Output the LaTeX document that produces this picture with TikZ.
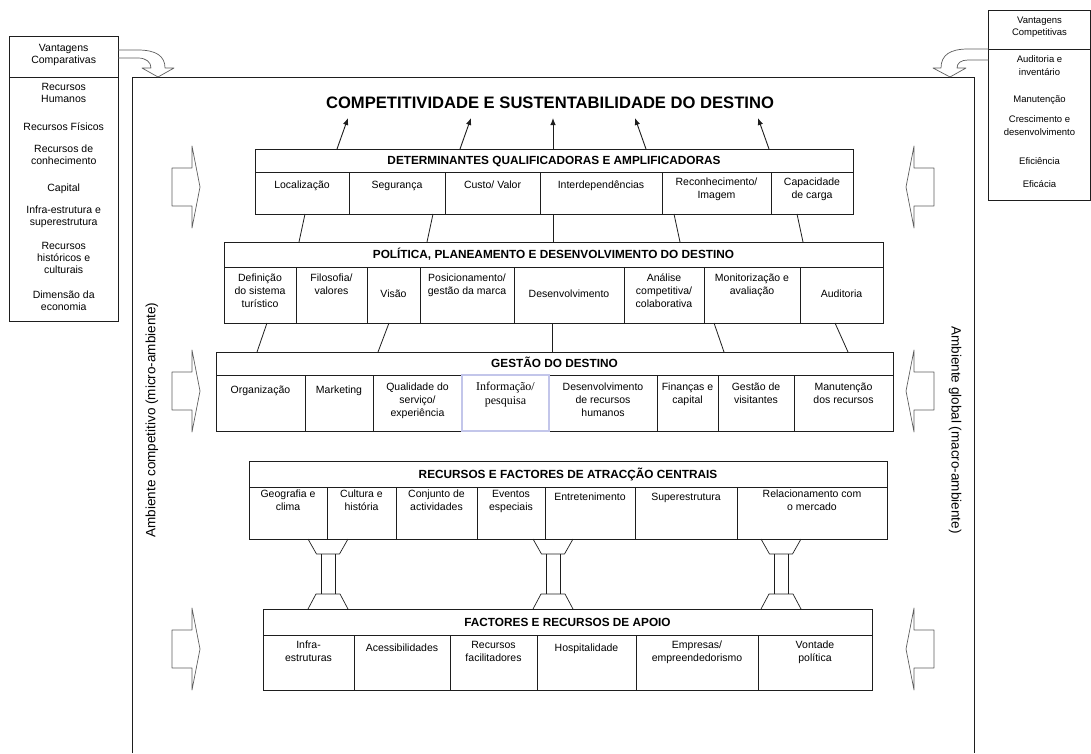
\documentclass[tikz,border=0pt]{standalone}
\usepackage{fontspec}
\setmainfont{Liberation Sans}
\newfontfamily\timesfont{Liberation Serif}
\usetikzlibrary{arrows.meta}
\definecolor{ink}{HTML}{1E1E1E}
\definecolor{shade}{HTML}{5E5E5E}
\definecolor{lilac}{HTML}{C3C6EA}
\begin{document}
\begin{tikzpicture}[x=1pt,y=-1pt,
  boxline/.style={draw=ink,line width=0.9pt},
  hollow/.style={draw=shade,line width=0.7pt,line join=round},
  pillar/.style={draw=ink,line width=0.7pt,line join=round},
  lift/.style={draw=ink,line width=0.9pt,-{Latex[length=7pt,width=5.5pt]}},
  link/.style={draw=ink,line width=0.8pt},
  heading/.style={font=\fontsize{11.8}{14}\selectfont\bfseries,text height=8.45pt,text depth=0pt,inner sep=0pt},
  cell/.style={anchor=north,align=center,inner sep=0pt,font=\fontsize{10.5}{13}\selectfont,execute at begin node={\rule{0pt}{1em}}},
  leftitem/.style={anchor=north,align=center,inner sep=0pt,font=\fontsize{10.5}{12.2}\selectfont,execute at begin node={\rule{0pt}{1em}}},
  rightitem/.style={anchor=north,align=center,inner sep=0pt,font=\fontsize{9.5}{12.2}\selectfont,execute at begin node={\rule{0pt}{1em}}},
  sidelabel/.style={font=\fontsize{13.5}{16}\selectfont,inner sep=0pt}]
\useasboundingbox (0,0) rectangle (1091,753);

% ---------- outer frame of the destination ----------
\draw[boxline] (132,753) -- (132,77) -- (974,77) -- (974,753);

% ---------- comparative advantages (left) ----------
\draw[boxline] (9.5,36) rectangle (118,321);
\draw[boxline] (9.5,77) -- (118,77);
\node[leftitem] (va) at (63.7,44) {Vantagens\\Comparativas};
\node[leftitem] (l1) at (63.7,83) {Recursos\\Humanos};
\node[leftitem] (l2) at (63.7,119.7) {Recursos Físicos};
\node[leftitem] (l3) at (63.7,144.7) {Recursos de\\conhecimento};
\node[leftitem] (l4) at (63.7,180.3) {Capital};
\node[leftitem] (l5) at (63.7,205.3) {Infra-estrutura e\\superestrutura};
\node[leftitem] (l6) at (63.7,242) {Recursos\\históricos e\\culturais};
\node[leftitem] (l7) at (63.7,290.3) {Dimensão da\\economia};

% ---------- competitive advantages (right) ----------
\draw[boxline] (988.5,10) rectangle (1090.5,200);
\draw[boxline] (988.5,49) -- (1090.5,49);
\node[rightitem] (vc) at (1039.5,16.8) {Vantagens\\Competitivas};
\node[rightitem] (r1) at (1039.5,55.8) {Auditoria e\\inventário};
\node[rightitem] (r2) at (1039.5,92.3) {Manutenção};
\node[rightitem] (r3) at (1039.5,115.8) {Crescimento e\\desenvolvimento};
\node[rightitem] (r4) at (1039.5,154.3) {Eficiência};
\node[rightitem] (r5) at (1039.5,177.8) {Eficácia};

% ---------- curved hollow arrows into the frame ----------
\draw[hollow] (118,50) -- (138,50) .. controls (156,50) and (165,56) .. (165,68)
  -- (174,68) -- (158,77) -- (142,68) -- (151,68)
  .. controls (151,62) and (146,58) .. (138,58) -- (118,58);
\draw[hollow] (988.5,49) -- (968,49) .. controls (950,49) and (941,55) .. (941,68)
  -- (933,68) -- (950,77) -- (966,68) -- (957,68)
  .. controls (957,63) and (961,60) .. (968,60) -- (988.5,60);

% ---------- side block arrows ----------
\foreach \c in {187,391,649} {
  \draw[hollow] (172,\c-19) -- (192,\c-19) -- (192,\c-41) -- (200,\c)
    -- (192,\c+41) -- (192,\c+19) -- (172,\c+19) -- cycle;
  \draw[hollow] (934,\c-19) -- (914,\c-19) -- (914,\c-41) -- (906,\c)
    -- (914,\c+41) -- (914,\c+19) -- (934,\c+19) -- cycle;
}
\node[sidelabel,rotate=90] (micro) at (152,420) {Ambiente competitivo (micro-ambiente)};
\node[sidelabel,rotate=-90] (macro) at (955,430) {Ambiente global (macro-ambiente)};

% ---------- title ----------
\node[font=\fontsize{16.6}{19}\selectfont\bfseries,text height=11.9pt,text depth=0pt,inner sep=0pt]
  (title) at (550,102.5) {COMPETITIVIDADE E SUSTENTABILIDADE DO DESTINO};

% ---------- block 1: qualifying and amplifying determinants ----------
\draw[boxline] (255,149) rectangle (853,214);
\draw[boxline] (255,172) -- (853,172);
\foreach \x in {349,445,540,662,771} \draw[boxline] (\x,172) -- (\x,214);
\node[heading] (h1) at (554,160.5) {DETERMINANTES QUALIFICADORAS E AMPLIFICADORAS};
\node[cell] (c11) at (302,177.5) {Localização};
\node[cell] (c12) at (397,177.5) {Segurança};
\node[cell] (c13) at (492.5,177.5) {Custo/ Valor};
\node[cell] (c14) at (601,177.5) {Interdependências};
\node[cell] (c15) at (716.5,177.5) {Reconhecimento/\\Imagem};
\node[cell] (c16) at (812,177.5) {Capacidade\\de carga};

% ---------- block 2: policy, planning and development ----------
\draw[boxline] (224,242) rectangle (883,323);
\draw[boxline] (224,267) -- (883,267);
\foreach \x in {296,367,420,514,624,704,800} \draw[boxline] (\x,267) -- (\x,323);
\node[heading] (h2) at (553.5,254.5) {POLÍTICA, PLANEAMENTO E DESENVOLVIMENTO DO DESTINO};
\node[cell] (c21) at (260,274) {Definição\\do sistema\\turístico};
\node[cell] (c22) at (331.5,274) {Filosofia/\\valores};
\node[cell] (c23) at (393.5,287) {Visão};
\node[cell] (c24) at (467,274) {Posicionamento/\\gestão da marca};
\node[cell] (c25) at (569,287) {Desenvolvimento};
\node[cell] (c26) at (664,274) {Análise\\competitiva/\\colaborativa};
\node[cell] (c27) at (752,274) {Monitorização e\\avaliação};
\node[cell] (c28) at (841.5,287) {Auditoria};

% ---------- block 3: destination management ----------
\draw[boxline] (216,352) rectangle (893,431);
\draw[boxline] (216,375) -- (893,375);
\foreach \x in {305,373,462,549,657,718,794} \draw[boxline] (\x,375) -- (\x,431);
\draw[lilac,line width=1.5pt] (462,375) rectangle (549,431);
\node[heading] (h3) at (554.5,363.5) {GESTÃO DO DESTINO};
\node[cell] (c31) at (260.5,383) {Organização};
\node[cell] (c32) at (339,383) {Marketing};
\node[cell] (c33) at (417.5,383) {Qualidade do\\serviço/\\experiência};
\node[cell,font=\fontsize{12}{14}\timesfont] (c34) at (505.5,382) {Informação/\\pesquisa};
\node[cell] (c35) at (603,383) {Desenvolvimento\\de recursos\\humanos};
\node[cell] (c36) at (687.5,383) {Finanças e\\capital};
\node[cell] (c37) at (756,383) {Gestão de\\visitantes};
\node[cell] (c38) at (843.5,383) {Manutenção\\dos recursos};

% ---------- block 4: core resources and attractors ----------
\draw[boxline] (249,461) rectangle (887,539);
\draw[boxline] (249,487) -- (887,487);
\foreach \x in {327,396,477,545,635,737} \draw[boxline] (\x,487) -- (\x,539);
\node[heading] (h4) at (568,474) {RECURSOS E FACTORES DE ATRACÇÃO CENTRAIS};
\node[cell] (c41) at (288,490) {Geografia e\\clima};
\node[cell] (c42) at (361.5,490) {Cultura e\\história};
\node[cell] (c43) at (436.5,490) {Conjunto de\\actividades};
\node[cell] (c44) at (511,490) {Eventos\\especiais};
\node[cell] (c45) at (590,490) {Entretenimento};
\node[cell] (c46) at (686,490) {Superestrutura};
\node[cell] (c47) at (812,490) {Relacionamento com\\o mercado};

% ---------- block 5: supporting factors and resources ----------
\draw[boxline] (263,609) rectangle (872,690);
\draw[boxline] (263,635) -- (872,635);
\foreach \x in {354,450,537,636,758} \draw[boxline] (\x,635) -- (\x,690);
\node[heading] (h5) at (567.5,622) {FACTORES E RECURSOS DE APOIO};
\node[cell] (c51) at (308.5,641) {Infra-\\estruturas};
\node[cell] (c52) at (402,641) {Acessibilidades};
\node[cell] (c53) at (493.5,641) {Recursos\\facilitadores};
\node[cell] (c54) at (586.5,641) {Hospitalidade};
\node[cell] (c55) at (697,641) {Empresas/\\empreendedorismo};
\node[cell] (c56) at (815,641) {Vontade\\política};

% ---------- pillars joining blocks 4 and 5 ----------
\foreach \p in {328,553,781} {
  \draw[pillar] (\p-20,539) -- (\p-11.5,554) -- (\p+11.5,554) -- (\p+20,539);
  \draw[pillar] (\p-7,554) -- (\p-7,594) (\p+7,554) -- (\p+7,594);
  \draw[pillar] (\p-20,609) -- (\p-12,594) -- (\p+12,594) -- (\p+20,609);
}

% ---------- arrows from block 1 up to the title ----------
\foreach \i/\xs/\xe in {1/337/348,2/460/471,3/553/553,4/646/635,5/769/758} {
  \coordinate (up\i s) at (\xs,149);
  \coordinate (up\i e) at (\xe,118);
  \draw[lift] (up\i s) -- (up\i e);
}

% ---------- links between blocks 1, 2 and 3 ----------
\foreach \i/\xa/\xb in {1/305/299,2/433/427,3/553/553,4/674/680,5/797/803} {
  \coordinate (ka\i) at (\xa,214);
  \coordinate (kb\i) at (\xb,242);
  \draw[link] (ka\i) -- (kb\i);
}
\foreach \i/\xa/\xb in {1/267/257,2/389/378,3/552/552,4/714/724,5/835/848} {
  \coordinate (ma\i) at (\xa,323);
  \coordinate (mb\i) at (\xb,352);
  \draw[link] (ma\i) -- (mb\i);
}
\end{tikzpicture}
\end{document}
